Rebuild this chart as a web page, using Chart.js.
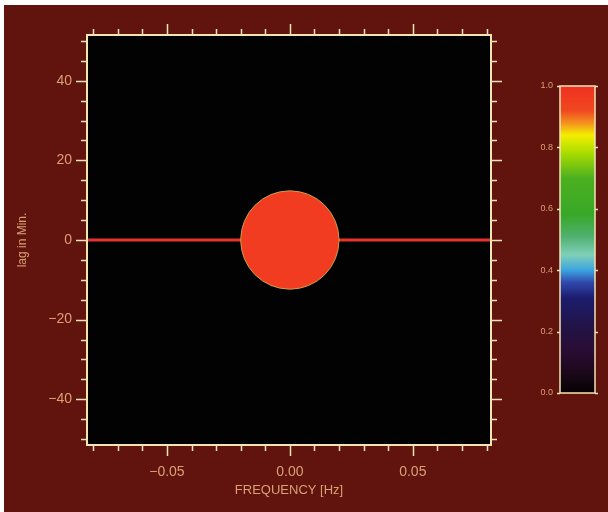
<!DOCTYPE html>
<html>
<head>
<meta charset="utf-8">
<script src="https://cdn.jsdelivr.net/npm/chart.js@4.4.1/dist/chart.umd.min.js"></script>
<style>
  html, body { margin: 0; padding: 0; background: #fff; }
  #wrap { position: relative; width: 608px; height: 512px; overflow: hidden; }
  #main { position: absolute; left: 0; top: 0; }
  #bar { position: absolute; left: 500px; top: 70px; }
</style>
</head>
<body>
<div id="wrap">
  <canvas id="main" width="608" height="512"></canvas>
  <canvas id="bar" width="108" height="340"></canvas>
</div>
<script>
// axis ranges
const xRange = [-0.0825, 0.0818];
const yRange = [-51.5, 51.5];

// tick values
const xMajor = [-0.05, 0, 0.05];
const xMinor = [-0.08, -0.07, -0.06, -0.04, -0.03, -0.02, -0.01, 0.01, 0.02, 0.03, 0.04, 0.06, 0.07, 0.08];
const yMajor = [-40, -20, 0, 20, 40];
const yMinor = [-50, -45, -35, -30, -25, -15, -10, -5, 5, 10, 15, 25, 30, 35, 45, 50];

// the red line along lag 0 and the disc at the origin
const lineLag = 0;
const discFreq = 0;
const discLag = 0;
const discRadius = 0.02; // Hz

// colour bar
const cbTicks = [0, 0.2, 0.4, 0.6, 0.8, 1.0];
const cbStops = [0, 0.06, 0.14, 0.22, 0.31, 0.36, 0.4, 0.45, 0.51, 0.58, 0.7, 0.78, 0.84, 0.88, 0.92, 1.0];
const cbColors = ["#050204", "#1a0818", "#2a0c34", "#221448", "#1c1c6e", "#3048ac", "#3ca4e0", "#80d0b8",
  "#50b070", "#38a828", "#4cb020", "#a8dc00", "#f4ee00", "#f49020", "#f04820", "#f03020"];

const bg = "#61140e";
const frame = "#f3e4b6";
const textCol = "#d9a075";
const minus = (s) => s.replace("-", "\u2212");

const frameTicks = {
  id: "frameTicks",
  beforeDraw(chart) {
    const c = chart.ctx;
    c.save();
    c.fillStyle = "#fff";
    c.fillRect(0, 0, chart.width, chart.height);
    c.fillStyle = bg;
    c.fillRect(4, 5, chart.width - 4, chart.height - 5);
    const a = chart.chartArea;
    c.fillStyle = "#020202";
    c.fillRect(a.left, a.top, a.right - a.left, a.bottom - a.top);
    c.restore();
  },
  afterDraw(chart) {
    const c = chart.ctx;
    const a = chart.chartArea;
    const xs = chart.scales.x, ys = chart.scales.y;
    c.save();
    c.strokeStyle = frame;
    c.lineWidth = 2;
    c.strokeRect(a.left, a.top, a.right - a.left, a.bottom - a.top);
    c.lineWidth = 1.5;
    c.beginPath();
    const xt = (vals, len) => vals.forEach((v) => {
      const p = Math.round(xs.getPixelForValue(v)) + 0.5;
      c.moveTo(p, a.bottom); c.lineTo(p, a.bottom + len);
      c.moveTo(p, a.top); c.lineTo(p, a.top - len);
    });
    const yt = (vals, len) => vals.forEach((v) => {
      const p = Math.round(ys.getPixelForValue(v)) + 0.5;
      c.moveTo(a.left, p); c.lineTo(a.left - len, p);
      c.moveTo(a.right, p); c.lineTo(a.right + len, p);
    });
    xt(xMajor, 11); xt(xMinor, 6);
    yt(yMajor, 11); yt(yMinor, 6);
    c.stroke();
    c.restore();
  }
};

new Chart(document.getElementById("main"), {
  type: "scatter",
  data: {
    datasets: [
      {
        order: 1,
        data: [{ x: xRange[0], y: lineLag }, { x: xRange[1], y: lineLag }],
        showLine: true,
        borderColor: "#e8322c",
        borderWidth: 3,
        pointRadius: 0
      },
      {
        order: 0,
        data: [{ x: discFreq, y: discLag }],
        pointRadius: (ctx) => {
          const s = ctx.chart.scales.x;
          return s.getPixelForValue(discRadius) - s.getPixelForValue(0);
        },
        pointBackgroundColor: "#f23c22",
        pointBorderColor: "#c9a040",
        pointBorderWidth: 1
      }
    ]
  },
  options: {
    responsive: false,
    animation: false,
    events: [],
    layout: { padding: { left: 10, top: 35, right: 117, bottom: 0 } },
    plugins: { legend: { display: false }, tooltip: { enabled: false } },
    scales: {
      x: {
        type: "linear",
        min: xRange[0],
        max: xRange[1],
        afterBuildTicks: (s) => { s.ticks = xMajor.map((v) => ({ value: v })); },
        afterFit: (s) => { s.height = 67; },
        grid: { display: false, drawTicks: false },
        border: { display: false },
        ticks: {
          color: textCol,
          padding: 19,
          font: { family: "Liberation Sans", size: 14 },
          callback: (v) => minus(v.toFixed(2))
        },
        title: {
          display: true,
          text: "FREQUENCY [Hz]",
          color: textCol,
          font: { family: "Liberation Sans", size: 13 },
          padding: { bottom: 14 }
        }
      },
      y: {
        type: "linear",
        min: yRange[0],
        max: yRange[1],
        afterBuildTicks: (s) => { s.ticks = yMajor.map((v) => ({ value: v })); },
        afterFit: (s) => { s.width = 77; },
        grid: { display: false, drawTicks: false },
        border: { display: false },
        ticks: {
          color: textCol,
          padding: 15,
          font: { family: "Liberation Sans", size: 14 },
          callback: (v) => minus(String(v))
        },
        title: {
          display: true,
          text: "lag in Min.",
          color: textCol,
          font: { family: "Liberation Sans", size: 12 },
          padding: { top: 5 }
        }
      }
    }
  },
  plugins: [frameTicks]
});

const barFrame = {
  id: "barFrame",
  afterDraw(chart) {
    const c = chart.ctx;
    const a = chart.chartArea;
    const ys = chart.scales.y;
    c.save();
    c.strokeStyle = frame;
    c.lineWidth = 1.5;
    c.strokeRect(a.left, a.top, a.right - a.left, a.bottom - a.top);
    c.beginPath();
    cbTicks.forEach((v) => {
      const p = Math.round(ys.getPixelForValue(v)) + 0.5;
      c.moveTo(a.left, p); c.lineTo(a.left - 3, p);
      c.moveTo(a.right, p); c.lineTo(a.right + 3, p);
    });
    c.stroke();
    c.restore();
  }
};

new Chart(document.getElementById("bar"), {
  type: "bar",
  data: {
    labels: ["scale"],
    datasets: [{
      data: [cbTicks[cbTicks.length - 1]],
      barPercentage: 1,
      categoryPercentage: 1,
      backgroundColor: (ctx) => {
        const a = ctx.chart.chartArea;
        if (!a) return cbColors[0];
        const g = ctx.chart.ctx.createLinearGradient(0, a.bottom, 0, a.top);
        cbStops.forEach((s, i) => g.addColorStop(s, cbColors[i]));
        return g;
      }
    }]
  },
  options: {
    responsive: false,
    animation: false,
    events: [],
    layout: { padding: { left: 0, top: 16, right: 13, bottom: 17 } },
    plugins: { legend: { display: false }, tooltip: { enabled: false } },
    scales: {
      x: { display: false },
      y: {
        min: 0,
        max: 1,
        afterBuildTicks: (s) => { s.ticks = cbTicks.map((v) => ({ value: v })); },
        afterFit: (s) => { s.width = 60; },
        grid: { display: false, drawTicks: false },
        border: { display: false },
        ticks: {
          color: textCol,
          padding: 7,
          font: { family: "Liberation Sans", size: 9 },
          callback: (v) => v.toFixed(1)
        }
      }
    }
  },
  plugins: [barFrame]
});
</script>
</body>
</html>
